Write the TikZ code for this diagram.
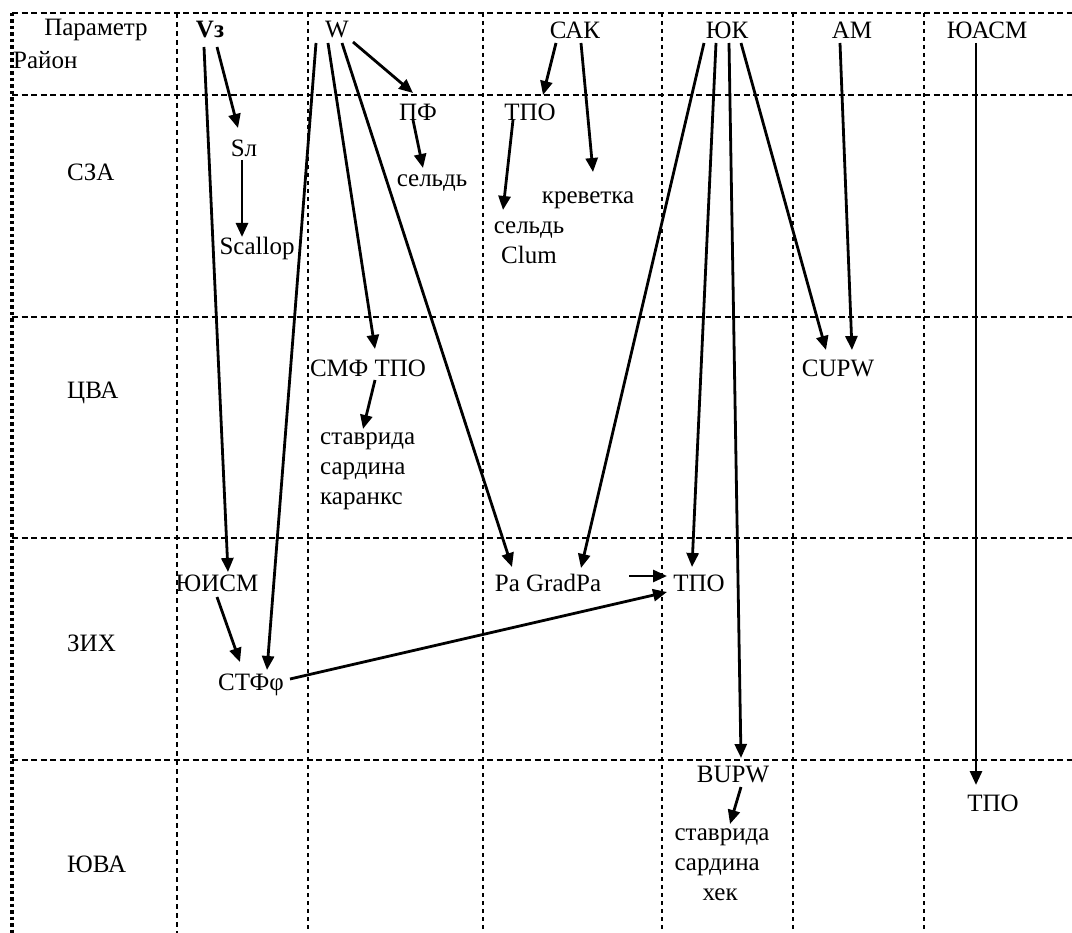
\documentclass[tikz,border=0pt]{standalone}
\usepackage{fontspec}
\setmainfont{Liberation Serif}
\usetikzlibrary{arrows.meta}
\begin{document}
\begin{tikzpicture}[x=1pt,y=-1pt,
  every node/.style={font=\fontsize{25}{30}\selectfont, inner sep=1pt},
  hline/.style={line width=2.6pt, dash pattern=on 6pt off 3.5pt},
  vline/.style={line width=2pt, dash pattern=on 4pt off 4pt},
  vthin/.style={line width=1.4pt, dash pattern=on 5pt off 4pt},
  border/.style={line width=4.5pt, dash pattern=on 3.5pt off 3pt},
  arr/.style={line width=2.8pt, -{Triangle[length=14pt,width=12pt]}},
  lbl/.style={anchor=west}]
\useasboundingbox (0,0) rectangle (1072,933);
% grid
\foreach \y in {13,95,317,538,760} \draw[hline] (12,\y) -- (1072,\y);
\draw[vthin] (177,13) -- (177,933);
\foreach \x in {308,483,662,793,924} \draw[vline] (\x,13) -- (\x,933);
\draw[border] (12,13) -- (12,933);
% header
\node (param) at (96,30) {Параметр};
\node[anchor=west] (rayon) at (12,60) {Район};
\node (vz) at (210,30) {\textbf{Vз}};
\node (w) at (337,30) {W};
\node (sak) at (575,30) {САК};
\node (yuk) at (727,30) {ЮК};
\node (am) at (852,30) {АМ};
\node (yuasm) at (987,30) {ЮАСМ};
% rows
\node[lbl] (sza) at (66,172) {СЗА};
\node[lbl] (cva) at (66,393) {ЦВА};
\node[lbl] (zih) at (66,643) {ЗИХ};
\node[lbl] (yuva) at (66,864) {ЮВА};
% content nodes
\node (sl) at (244,148) {Sл};
\node (scallop) at (257,248) {Scallop};
\node (pf) at (418,112) {ПФ};
\node (seld1) at (432,183) {сельдь};
\node (tpo1) at (530,112) {ТПО};
\node[align=center] (seldclum) at (529,243) {сельдь\\Clum};
\node (krev) at (588,200) {креветка};
\node (smf) at (368,368) {СМФ ТПО};
\node[anchor=west, align=left] (stav1) at (319,471) {ставрида\\сардина\\каранкс};
\node (cupw) at (838,368) {CUPW};
\node (yuism) at (217,583) {ЮИСМ};
\node (pa) at (548,583) {Pa GradPa};
\node (tpo2) at (699,583) {ТПО};
\node (stf) at (251,685) {СТФφ};
\node (bupw) at (733,775) {BUPW};
\node[align=left] (stav2) at (722,865) {ставрида\\сардина\\\hspace*{28pt}хек};
\node (tpo3) at (993,803) {ТПО};
% arrows
\draw[arr] ([shift={(-6,17)}]vz.center) -- ([shift={(11,-11)}]yuism.center);
\draw[arr] ([shift={(7,17)}]vz.center) -- ([shift={(-6,-20)}]sl.center);
\draw[arr] ([shift={(-2,12)}]sl.center) -- ([shift={(-15,-11)}]scallop.center);
\draw[arr] ([shift={(-21,13)}]w.center) -- ([shift={(16,-15)}]stf.center);
\draw[arr] ([shift={(-9,13)}]w.center) -- ([shift={(7,-19)}]smf.center);
\draw[arr] ([shift={(5,13)}]w.center) -- ([shift={(-36,-16)}]pa.center);
\draw[arr] ([shift={(16,12)}]w.center) -- ([shift={(-5,-19)}]pf.center);
\draw[arr] ([shift={(-5,8)}]pf.center) -- ([shift={(-9,-15)}]seld1.center);
\draw[arr] ([shift={(-19,13)}]sak.center) -- ([shift={(13,-17)}]tpo1.center);
\draw[arr] ([shift={(6,13)}]sak.center) -- ([shift={(5,-28)}]krev.center);
\draw[arr] ([shift={(-17,8)}]tpo1.center) -- ([shift={(-26,-33)}]seldclum.center);
\draw[arr] ([shift={(-23,13)}]yuk.center) -- ([shift={(33,-15)}]pa.center);
\draw[arr] ([shift={(-11,13)}]yuk.center) -- ([shift={(-7,-16)}]tpo2.center);
\draw[arr] ([shift={(2,13)}]yuk.center) -- ([shift={(8,-17)}]bupw.center);
\draw[arr] ([shift={(14,13)}]yuk.center) -- ([shift={(-12,-18)}]cupw.center);
\draw[arr] ([shift={(-12,13)}]am.center) -- ([shift={(14,-18)}]cupw.center);
\draw[arr] ([shift={(-11,13)}]yuasm.center) -- ([shift={(-17,-18)}]tpo3.center);
\draw[arr] ([shift={(8,12)}]bupw.center) -- ([shift={(8,-41)}]stav2.center);
\draw[arr] ([shift={(7,12)}]smf.center) -- ([shift={(44,-42)}]stav1.west);
\draw[arr] ([shift={(0,14)}]yuism.center) -- ([shift={(-11,-23)}]stf.center);
\draw[arr] ([shift={(81,-7)}]pa.center) -- ([shift={(-32,-7)}]tpo2.center);
\draw[arr] ([shift={(39,-6)}]stf.center) -- ([shift={(-32,9)}]tpo2.center);
\end{tikzpicture}
\end{document}
